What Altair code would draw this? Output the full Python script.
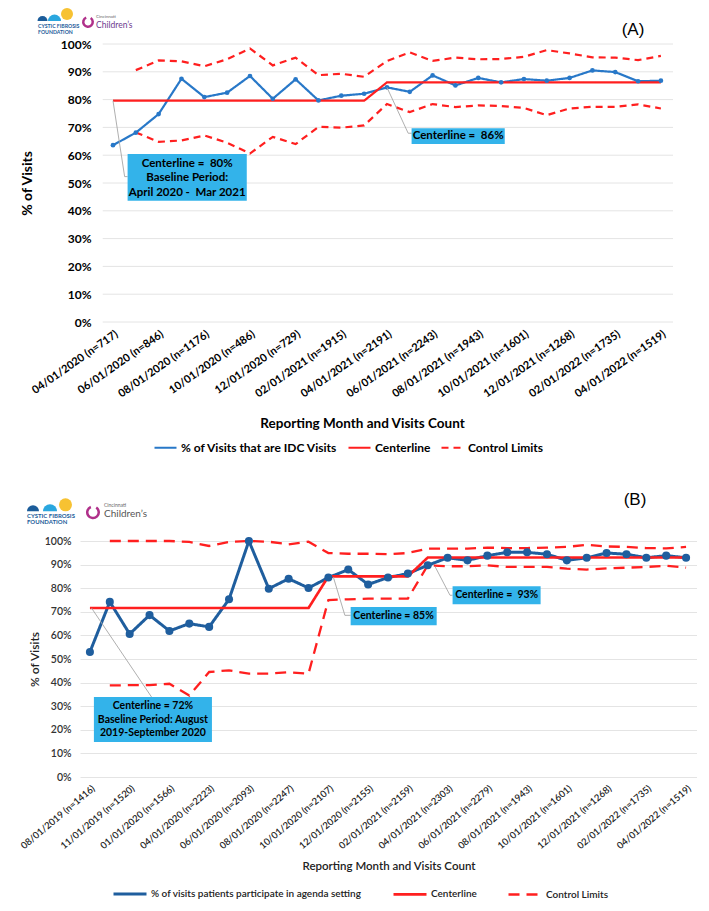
import json
import altair as alt
import pandas as pd

FONT = "Lato"
RED = "#FF1F1F"
BOX = "#33B3EA"
GRID = "#E4E4E4"
LEADER = "#A6A6A6"
NB = "\u00a0"

# ---------------- Panel A data ----------------
A_SERIES = "% of Visits that are IDC Visits"
a_tick_labels = ["04/01/2020 (n=717)", "06/01/2020 (n=846)", "08/01/2020 (n=1176)",
                 "10/01/2020 (n=486)", "12/01/2020 (n=729)", "02/01/2021 (n=1915)",
                 "04/01/2021 (n=2191)", "06/01/2021 (n=2243)", "08/01/2021 (n=1943)",
                 "10/01/2021 (n=1601)", "12/01/2021 (n=1268)", "02/01/2022 (n=1735)",
                 "04/01/2022 (n=1519)"]
a_pct = [63.6, 68.1, 74.8, 87.5, 80.9, 82.5, 88.5, 80.3, 87.3, 79.7, 81.4, 82.1, 84.4,
         82.8, 88.7, 85.1, 87.8, 86.2, 87.4, 86.8, 87.8, 90.5, 89.9, 86.6, 86.8]
a_center = [79.6, 79.6, 79.6, 79.6, 79.6, 79.6, 79.6, 79.6, 79.6, 79.6, 79.6, 79.6, 86.2,
            86.2, 86.2, 86.2, 86.2, 86.2, 86.2, 86.2, 86.2, 86.2, 86.2, 86.2, 86.2]
a_ucl = [None, 90.6, 94.1, 93.8, 92.0, 94.5, 98.4, 92.3, 95.1, 88.8, 89.3, 88.2, 93.9,
         97.0, 93.9, 95.1, 94.5, 94.6, 95.4, 97.8, 96.6, 95.2, 95.1, 94.2, 95.7]
a_lcl = [None, 68.2, 64.8, 65.3, 67.1, 64.5, 60.6, 66.6, 64.0, 70.2, 69.9, 70.7, 78.4,
         75.5, 78.4, 77.3, 77.9, 77.7, 77.0, 74.4, 76.8, 77.4, 77.4, 78.3, 76.8]
a_notes = ["Centerline =" + NB + " 80%\nBaseline Period:\nApril 2020 -" + NB + " Mar 2021",
           "Centerline =" + NB + " 86%"]

# ---------------- Panel B data ----------------
B_SERIES = "% of visits patients participate in agenda setting"
b_tick_labels = ["08/01/2019 (n=1416)", "11/01/2019 (n=1520)", "01/01/2020 (n=1566)",
                 "04/01/2020 (n=2223)", "06/01/2020 (n=2093)", "08/01/2020 (n=2247)",
                 "10/01/2020 (n=2107)", "12/01/2020 (n=2155)", "02/01/2021 (n=2159)",
                 "04/01/2021 (n=2303)", "06/01/2021 (n=2279)", "08/01/2021 (n=1943)",
                 "10/01/2021 (n=1601)", "12/01/2021 (n=1268)", "02/01/2022 (n=1735)",
                 "04/01/2022 (n=1519)"]
b_pct = [53.0, 74.2, 60.6, 68.6, 61.9, 65.0, 63.6, 75.3, 100.0, 79.8, 84.0, 80.1, 84.5,
         87.9, 81.6, 84.5, 86.2, 89.7, 92.9, 91.8, 93.8, 95.2, 95.2, 94.4, 91.8, 92.9,
         94.9, 94.4, 92.9, 93.8, 92.9]
b_center = [71.6, 71.6, 71.6, 71.6, 71.6, 71.6, 71.6, 71.6, 71.6, 71.6, 71.6, 71.6,
            85.0, 85.0, 85.0, 85.0, 85.0,
            93.0, 93.0, 93.0, 93.0, 93.0, 93.0, 93.0, 93.0, 93.0, 93.0, 93.0, 93.0, 93.0, 93.0]
b_ucl = [None, 100, 100, 100, 100, 99.6, 97.9, 99.6, 100, 99.7, 98.6, 99.7, 94.9, 94.6,
         94.6, 94.4, 94.9, 96.8, 96.8, 96.8, 97.2, 97.0, 97.0, 97.2, 97.5, 98.4, 97.7,
         97.5, 97.0, 96.9, 97.5]
b_lcl = [None, 38.8, 38.9, 38.9, 39.5, 34.5, 44.5, 45.2, 43.8, 43.8, 44.4, 43.8, 75.0,
         75.3, 75.6, 75.6, 75.6, 89.7, 89.3, 89.3, 89.7, 89.0, 89.0, 89.0, 88.3, 87.9,
         88.4, 88.7, 89.0, 89.5, 88.7]
b_notes = ["Centerline = 72%\nBaseline Period: August\n2019-September 2020",
           "Centerline = 85%", "Centerline =" + NB + " 93%"]

y_ticks = [0, 10, 20, 30, 40, 50, 60, 70, 80, 90, 100]


def long_df(series_name, pct, center, ucl, lcl):
    rows = []
    for i, v in enumerate(pct):
        rows.append(dict(idx=i, value=v, series=series_name, line="pct"))
    for i, v in enumerate(center):
        rows.append(dict(idx=i, value=v, series="Centerline", line="cl"))
    for i, v in enumerate(ucl):
        if v is not None:
            rows.append(dict(idx=i, value=v, series="Control Limits", line="ucl"))
    for i, v in enumerate(lcl):
        if v is not None:
            rows.append(dict(idx=i, value=v, series="Control Limits", line="lcl"))
    return pd.DataFrame(rows)


def build_panel(series_name, pct, center, ucl, lcl, tick_labels, notes, cfg):
    df = long_df(series_name, pct, center, ucl, lcl)
    n = len(pct)
    label_expr = "[" + ",".join(json.dumps(t) for t in tick_labels) + "][round(datum.value / 2)]"
    use_axis_grid = cfg["grid_span"] is None

    x_axis_kw = dict(values=list(range(0, n, 2)), labelExpr=label_expr,
                     labelAngle=cfg["xangle"], labelFont=FONT,
                     labelFontSize=cfg["xlab_size"], labelFontWeight=cfg["xlab_weight"],
                     labelColor=cfg["text_color"], labelPadding=cfg["xlab_pad"],
                     labelOverlap=False, labelBound=False, labelLimit=300,
                     domain=False, ticks=False, grid=False,
                     titleFont=FONT, titleFontSize=cfg["xtitle_size"],
                     titleFontWeight=cfg["xtitle_weight"], titleColor=cfg["text_color"],
                     titlePadding=cfg["xtitle_pad"])
    if cfg.get("xtitle_x") is not None:
        x_axis_kw["titleX"] = cfg["xtitle_x"]
        x_axis_kw["titleAlign"] = "center"
    x_enc = alt.X(
        "idx:Q",
        scale=alt.Scale(domain=cfg["xdomain"], nice=False, zero=False),
        axis=alt.Axis(**x_axis_kw),
        title="Reporting Month and Visits Count",
    )
    y_enc = alt.Y(
        "value:Q",
        scale=alt.Scale(domain=[0, 100], nice=False),
        axis=alt.Axis(values=y_ticks, labelExpr="datum.value + '%'",
                      grid=use_axis_grid, gridColor=GRID, gridWidth=1, domain=False, ticks=False,
                      labelFont=FONT, labelFontSize=cfg["ylab_size"],
                      labelFontWeight=cfg["ylab_weight"], labelColor=cfg["ylab_color"],
                      labelPadding=cfg["ylab_pad"],
                      titleFont=FONT, titleFontSize=cfg["ytitle_size"],
                      titleFontWeight=cfg["ytitle_weight"], titleColor=cfg["text_color"],
                      titlePadding=cfg["ytitle_pad"]),
        title="% of Visits",
    )

    layers = []
    if not use_axis_grid:
        g0, g1 = cfg["grid_span"]
        grid_df = pd.DataFrame({"idx": [g0] * len(y_ticks), "idx2": [g1] * len(y_ticks),
                                "value": y_ticks})
        layers.append(alt.Chart(grid_df).mark_rule(color=GRID, strokeWidth=1).encode(
            x=x_enc, x2="idx2:Q", y=y_enc))

    domain = [series_name, "Centerline", "Control Limits"]
    legend = alt.Legend(title=None, orient="none", legendX=cfg["legend_x"],
                        legendY=cfg["legend_y"], direction="horizontal",
                        symbolType="stroke", symbolSize=cfg["sym_size"],
                        symbolStrokeWidth=cfg["sym_width"], labelFont=FONT,
                        labelFontSize=cfg["leg_size"], labelFontWeight=cfg["leg_weight"],
                        labelColor=cfg["text_color"], labelLimit=400,
                        columnPadding=cfg["leg_colpad"], labelOffset=3)

    base = alt.Chart(df)
    lines = base.mark_line().encode(
        x=x_enc, y=y_enc,
        color=alt.Color("series:N", scale=alt.Scale(domain=domain, range=[cfg["blue"], RED, RED]),
                        legend=legend),
        strokeDash=alt.StrokeDash("series:N",
                                  scale=alt.Scale(domain=domain, range=[[1, 0], [1, 0], cfg["dash"]]),
                                  legend=legend),
        strokeWidth=alt.StrokeWidth("series:N",
                                    scale=alt.Scale(domain=domain, range=cfg["widths"]),
                                    legend=None),
        detail="line:N",
    )
    points = base.transform_filter(alt.datum.line == "pct").mark_circle(
        size=cfg["pt_size"], color=cfg["blue"], opacity=1).encode(x=x_enc, y=y_enc)

    # annotation boxes (positions in data units)
    box_df = pd.DataFrame({"idx": [b[0] for b in cfg["boxes"]], "idx2": [b[1] for b in cfg["boxes"]],
                           "value": [b[2] for b in cfg["boxes"]], "value2": [b[3] for b in cfg["boxes"]]})
    boxes = alt.Chart(box_df).mark_rect(color=BOX).encode(
        x=x_enc, x2="idx2:Q", y=y_enc, y2="value2:Q")
    txt_df = pd.DataFrame({"idx": [t[0] for t in cfg["text_pos"]],
                           "value": [t[1] for t in cfg["text_pos"]], "label": notes})
    texts = alt.Chart(txt_df).mark_text(font=FONT, fontSize=cfg["note_size"], fontWeight="bold",
                                        color="black", align="center", baseline="middle",
                                        lineBreak="\n", lineHeight=cfg["note_lh"]).encode(
        x=x_enc, y=y_enc, text="label:N")
    lead_rows = []
    for k, pts in enumerate(cfg["leaders"]):
        for j, (xx, yy) in enumerate(pts):
            lead_rows.append(dict(idx=xx, value=yy, grp=k, ord=j))
    leaders = alt.Chart(pd.DataFrame(lead_rows)).mark_line(color=LEADER, strokeWidth=0.9).encode(
        x=x_enc, y=y_enc, detail="grp:N", order="ord:Q")

    one = pd.DataFrame({"k": [0]})
    deco = []
    # invisible rule fixing the panel's outer bounds
    deco.append(alt.Chart(one).mark_rule(opacity=0).encode(
        x=alt.value(cfg["bound_left"]), y=alt.value(cfg["bound_top"]), y2=alt.value(cfg["bound_bottom"])))
    # logo shapes
    for (cx, cy, r, col, full) in cfg["logo_shapes"]:
        if full:
            m = alt.Chart(one).mark_arc(radius=r, theta=0, theta2=6.2832, color=col)
        else:
            m = alt.Chart(one).mark_arc(radius=r, theta=4.7124, theta2=7.854, color=col)
        deco.append(m.encode(x=alt.value(cx), y=alt.value(cy)))
    lx, ly = cfg["ring"]
    deco.append(alt.Chart(one).mark_arc(radius=cfg["ring_r"], radius2=cfg["ring_r"] - 2.5,
                                        theta=0.6, theta2=5.9, color="#B0308A").encode(
        x=alt.value(lx), y=alt.value(ly)))
    for (tx, ty, t, size, weight, col, fnt, align) in cfg["logo_texts"]:
        deco.append(alt.Chart(one).mark_text(text=t, fontSize=size, fontWeight=weight, color=col,
                                             font=fnt, align=align, baseline="middle").encode(
            x=alt.value(tx), y=alt.value(ty)))

    layers += [lines, points, leaders, boxes, texts] + deco
    return alt.layer(*layers).properties(width=cfg["width"], height=cfg["height"])


# Panel A: plot area shares the left origin of panel B (x = 80); its grid starts at index -0.45
cfg_a = dict(
    xdomain=[-1.445, 24.53], width=593, height=278, grid_span=(-0.45, 24.53),
    xangle=-35, xlab_size=11, xlab_weight="bold", xlab_pad=6,
    xtitle_size=13.5, xtitle_weight="bold", xtitle_pad=18, xtitle_x=282,
    ylab_size=12, ylab_weight="bold", ylab_color="black", ylab_pad=-11,
    ytitle_size=14, ytitle_weight="bold", ytitle_pad=26,
    text_color="black", blue="#2878C8", dash=[7, 5], widths=[2.2, 2.2, 2.2], pt_size=22,
    legend_x=73, legend_y=391, sym_size=484, sym_width=2.5, leg_size=12, leg_weight="bold",
    leg_colpad=6,
    note_size=11.5, note_lh=14.5,
    boxes=[(0.64, 5.86, 43.6, 60.4), (13.08, 17.16, 64.0, 69.7)],
    text_pos=[(3.25, 57.0), (15.12, 66.9)],
    leaders=[[(0, 79.6), (0.51, 52.3), (0.64, 52.3)],
             [(12, 84.4), (12.93, 67.9), (13.08, 67.9)]],
    bound_left=-72, bound_top=-36, bound_bottom=426,
    logo_shapes=[(-37.5, -23, 5, "#1B5C9A", False), (-25.5, -23, 6.5, "#2AA7DF", False),
                 (-13, -30, 6, "#F7C232", True)],
    ring=(8, -22), ring_r=6,
    logo_texts=[(-42, -18, "CYSTIC FIBROSIS", 5.2, "bold", "#1B5C9A", FONT, "left"),
                (-42, -12, "FOUNDATION", 5.2, "bold", "#1B5C9A", FONT, "left"),
                (16, -27, "Cincinnati", 4.5, "normal", "#666666", FONT, "left"),
                (16, -19, "Children\u2019s", 8.5, "normal", "#6D3A8E", FONT, "left"),
                (553, -14, "(A)", 17, "normal", "black", "Liberation Sans", "center")],
)

cfg_b = dict(
    xdomain=[-0.5, 30.55], width=617, height=236, grid_span=None,
    xangle=-40, xlab_size=9.5, xlab_weight=600, xlab_pad=6,
    xtitle_size=11.5, xtitle_weight=600, xtitle_pad=10, xtitle_x=None,
    ylab_size=10.5, ylab_weight=600, ylab_color="#333333", ylab_pad=9,
    ytitle_size=12, ytitle_weight=600, ytitle_pad=3,
    text_color="#222222", blue="#1F5E9E", dash=[11, 7], widths=[3, 2.3, 3.5], pt_size=65,
    legend_x=32, legend_y=335, sym_size=1089, sym_width=3, leg_size=10, leg_weight=600,
    leg_colpad=26,
    note_size=10.5, note_lh=13.5,
    boxes=[(0.2, 6.14, 14.8, 33.9), (13.12, 17.45, 64.3, 72.0), (18.25, 22.68, 73.2, 80.8)],
    text_pos=[(3.17, 30.0), (15.28, 68.2), (20.47, 77.0)],
    leaders=[[(0.08, 71.6), (3.1, 33.9)],
             [(12.25, 84.7), (12.83, 68.5), (13.12, 68.5)],
             [(17.36, 89.3), (18.12, 77.0), (18.25, 77.0)]],
    bound_left=-72, bound_top=-50, bound_bottom=358,
    logo_shapes=[(-47, -29.7, 6, "#1B5C9A", False), (-30, -29.7, 7, "#2AA7DF", False),
                 (-14.5, -36.2, 6.5, "#F7C232", True)],
    ring=(13, -28.7), ring_r=7,
    logo_texts=[(-53, -25.2, "CYSTIC FIBROSIS", 6.0, "bold", "#1B5C9A", FONT, "left"),
                (-53, -18.7, "FOUNDATION", 6.0, "bold", "#1B5C9A", FONT, "left"),
                (24, -36.5, "Cincinnati", 5, "normal", "#666666", FONT, "left"),
                (24, -26.7, "Children\u2019s", 10, "normal", "#555555", FONT, "left"),
                (555, -40.7, "(B)", 17, "normal", "black", "Liberation Sans", "center")],
)

panel_a = build_panel(A_SERIES, a_pct, a_center, a_ucl, a_lcl, a_tick_labels, a_notes, cfg_a)
panel_b = build_panel(B_SERIES, b_pct, b_center, b_ucl, b_lcl, b_tick_labels, b_notes, cfg_b)

chart = alt.concat(panel_a, panel_b, columns=1, spacing=21).properties(
    padding=0, background="white"
).configure_view(stroke=None).resolve_scale(color="independent", strokeDash="independent",
                                            strokeWidth="independent")

chart.save("out.html", embed_options={"renderer": "svg", "actions": False})
